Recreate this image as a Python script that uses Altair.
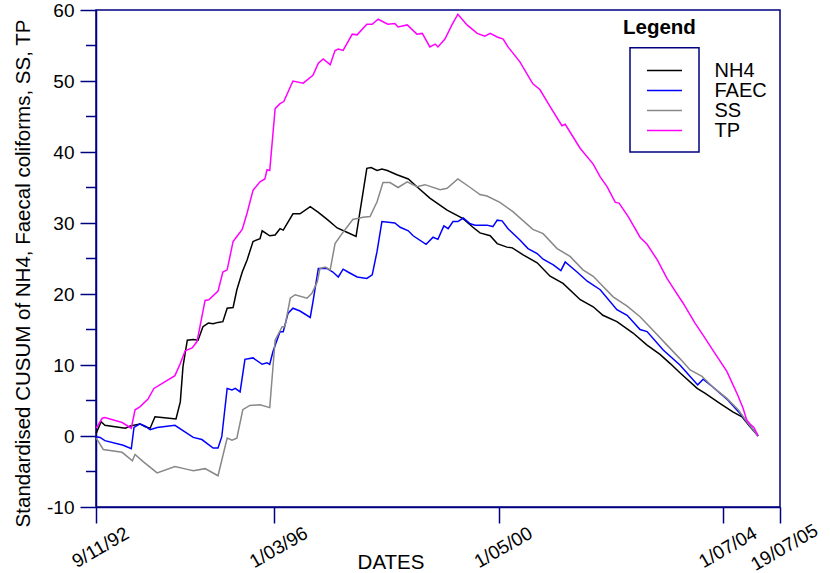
import altair as alt
import pandas as pd

NAVY = "#000080"
FONT = "Liberation Sans"

series_names = ["NH4", "FAEC", "SS", "TP"]
series_colors = ["#000000", "#0000ff", "#888888", "#ff00ff"]

x_tick_dates = [(1992, 11, 9), (1996, 3, 1), (2000, 5, 1), (2004, 7, 1), (2005, 7, 19)]
y_major = [-10, 0, 10, 20, 30, 40, 50, 60]
y_minor = [-5, 5, 15, 25, 35, 45, 55]

# decimal years / standardised CUSUM values
nh4_years = [1992.86, 1992.95, 1993.02, 1993.40, 1993.49, 1993.67, 1993.77, 1993.86, 1993.95, 1994.08,
             1994.34, 1994.42, 1994.47, 1994.55, 1994.66, 1994.75, 1994.84, 1994.94, 1995.03, 1995.12,
             1995.21, 1995.29, 1995.40, 1995.47, 1995.57, 1995.66, 1995.77, 1995.90, 1995.94, 1996.08,
             1996.18, 1996.27, 1996.33, 1996.51, 1996.64, 1996.83, 1996.98, 1997.16, 1997.33, 1997.51,
             1997.68, 1997.88, 1997.96, 1998.07, 1998.16, 1998.26, 1998.44, 1998.65, 1998.81, 1999.05,
             1999.37, 1999.65, 1999.85, 1999.98, 2000.17, 2000.30, 2000.48, 2000.58, 2000.78, 2001.04,
             2001.28, 2001.52, 2001.84, 2002.08, 2002.26, 2002.52, 2002.82, 2003.08, 2003.32, 2003.51,
             2003.69, 2004.01, 2004.16, 2004.43, 2004.67, 2004.84, 2004.99, 2005.14]
nh4_values = [0.4, 2.0, 1.5, 1.1, 1.4, 1.7, 1.3, 1.1, 2.7, 2.6,
              2.4, 4.8, 9.8, 13.5, 13.6, 13.5, 15.4, 15.9, 15.8, 16.0,
              16.1, 18.0, 18.1, 20.6, 23.1, 24.8, 27.4, 27.8, 28.9, 28.2,
              28.3, 29.2, 29.0, 31.3, 31.3, 32.3, 31.5, 30.4, 29.3, 28.7,
              28.1, 37.7, 37.8, 37.4, 37.6, 37.4, 36.8, 36.2, 35.1, 33.5,
              31.8, 30.7, 29.4, 28.6, 28.2, 27.1, 26.6, 26.5, 25.5, 24.4,
              22.5, 21.5, 19.2, 18.2, 17.0, 16.1, 14.5, 12.8, 11.5, 10.2,
              8.9, 6.7, 6.0, 4.6, 3.4, 2.7, 1.3, 0.0]

faec_years = [1992.86, 1992.93, 1993.02, 1993.36, 1993.51, 1993.56, 1993.67, 1993.77, 1993.86, 1993.99,
              1994.32, 1994.66, 1994.82, 1995.03, 1995.12, 1995.19, 1995.29, 1995.38, 1995.44, 1995.53,
              1995.62, 1995.77, 1995.94, 1996.03, 1996.08, 1996.14, 1996.27, 1996.33, 1996.42, 1996.51,
              1996.64, 1996.83, 1996.88, 1996.98, 1997.14, 1997.25, 1997.35, 1997.44, 1997.53, 1997.70,
              1997.88, 1997.98, 1998.07, 1998.16, 1998.40, 1998.50, 1998.65, 1998.74, 1998.98, 1999.11,
              1999.20, 1999.31, 1999.39, 1999.48, 1999.57, 1999.67, 1999.80, 1999.89, 2000.11, 2000.22,
              2000.30, 2000.39, 2000.50, 2000.72, 2000.87, 2001.04, 2001.15, 2001.34, 2001.48, 2001.56,
              2001.78, 2001.97, 2002.21, 2002.52, 2002.71, 2002.95, 2003.08, 2003.38, 2003.69, 2004.02,
              2004.12, 2004.30, 2004.56, 2004.80, 2004.95, 2005.14]
faec_values = [-0.1, -0.2, -0.65, -1.3, -1.8, 1.2, 1.7, 1.4, 0.9, 1.2,
               1.5, -0.2, -0.5, -1.7, -1.7, -0.1, 6.7, 6.5, 6.7, 6.2,
               10.8, 11.0, 10.1, 10.3, 10.1, 11.9, 14.7, 14.7, 17.3, 18.0,
               17.6, 16.7, 18.9, 23.6, 23.6, 23.1, 22.4, 23.5, 23.1, 22.4,
               22.2, 22.7, 26.0, 30.2, 30.0, 29.4, 28.9, 28.2, 27.0, 28.0,
               27.7, 29.6, 29.2, 30.2, 30.2, 30.7, 29.9, 29.7, 29.7, 29.5,
               30.4, 30.3, 29.2, 27.6, 26.4, 25.7, 24.9, 24.1, 23.3, 24.5,
               23.1, 21.8, 20.6, 17.8, 17.0, 15.0, 14.7, 12.1, 10.0, 7.2,
               8.0, 6.9, 5.2, 3.2, 1.8, 0.0]

ss_years = [1992.86, 1992.99, 1993.34, 1993.53, 1993.58, 1993.73, 1993.99, 1994.32, 1994.55, 1994.66,
            1994.88, 1995.12, 1995.29, 1995.38, 1995.47, 1995.58, 1995.71, 1995.90, 1996.08, 1996.18,
            1996.31, 1996.36, 1996.46, 1996.55, 1996.77, 1996.86, 1996.96, 1997.01, 1997.11, 1997.20,
            1997.29, 1997.42, 1997.62, 1997.81, 1997.94, 1998.07, 1998.18, 1998.31, 1998.46, 1998.63,
            1998.81, 1998.96, 1999.24, 1999.37, 1999.57, 1999.80, 1999.98, 2000.11, 2000.35, 2000.59,
            2000.96, 2001.15, 2001.41, 2001.65, 2001.89, 2002.08, 2002.45, 2002.71, 2002.95, 2003.19,
            2003.45, 2003.69, 2003.88, 2004.10, 2004.30, 2004.56, 2004.77, 2004.93, 2005.14]
ss_values = [-0.3, -1.9, -2.3, -3.5, -2.6, -3.6, -5.2, -4.3, -4.7, -4.9,
             -4.6, -5.6, -0.3, -0.6, -0.3, 3.7, 4.3, 4.4, 4.0, 13.5,
             15.4, 15.4, 19.4, 19.9, 19.4, 20.1, 21.7, 23.6, 23.8, 23.4,
             27.1, 28.5, 30.5, 30.8, 30.9, 33.0, 35.7, 35.7, 35.0, 35.8,
             35.1, 35.4, 34.7, 34.9, 36.2, 35.0, 34.0, 33.8, 32.9, 31.6,
             29.1, 28.5, 26.4, 25.3, 23.4, 22.5, 19.6, 18.3, 16.8, 14.9,
             12.8, 10.9, 9.3, 8.4, 6.9, 5.3, 3.7, 2.0, 0.0]

tp_years = [1992.86, 1992.97, 1993.02, 1993.34, 1993.51, 1993.58, 1993.67, 1993.82, 1993.93, 1994.32,
            1994.42, 1994.51, 1994.64, 1994.73, 1994.88, 1994.95, 1995.12, 1995.21, 1995.29, 1995.40,
            1995.47, 1995.57, 1995.66, 1995.77, 1995.90, 1995.99, 1996.03, 1996.08, 1996.18, 1996.27,
            1996.34, 1996.51, 1996.70, 1996.88, 1996.98, 1997.07, 1997.20, 1997.29, 1997.35, 1997.44,
            1997.61, 1997.70, 1997.88, 1997.98, 1998.09, 1998.27, 1998.40, 1998.46, 1998.63, 1998.81,
            1998.91, 1999.05, 1999.15, 1999.20, 1999.33, 1999.46, 1999.57, 1999.74, 1999.93, 2000.07,
            2000.17, 2000.30, 2000.41, 2000.50, 2000.72, 2000.96, 2001.09, 2001.28, 2001.50, 2001.56,
            2001.84, 2002.08, 2002.21, 2002.34, 2002.49, 2002.56, 2002.73, 2002.95, 2003.08, 2003.27,
            2003.45, 2003.56, 2003.75, 2003.97, 2004.12, 2004.30, 2004.56, 2004.77, 2004.86, 2004.93,
            2004.99, 2005.06, 2005.14]
tp_values = [1.1, 2.5, 2.6, 1.9, 1.1, 3.7, 4.1, 5.2, 6.7, 8.5,
             10.2, 12.0, 12.4, 13.3, 19.1, 19.2, 20.4, 23.1, 23.4, 27.4,
             28.1, 29.1, 31.4, 34.6, 35.8, 36.2, 37.5, 37.4, 46.1, 46.8,
             47.1, 50.0, 49.7, 50.8, 52.5, 53.1, 52.3, 54.3, 54.5, 54.3,
             56.6, 56.5, 58.0, 58.0, 58.7, 58.0, 58.1, 57.6, 57.9, 56.6,
             56.7, 54.8, 55.2, 54.8, 55.9, 57.9, 59.4, 57.9, 56.7, 56.3,
             56.7, 56.2, 55.9, 54.8, 52.7, 49.6, 48.8, 46.4, 43.7, 43.9,
             40.5, 38.3, 36.5, 35.1, 32.9, 32.8, 30.9, 28.0, 27.0, 24.8,
             22.2, 20.9, 18.7, 15.9, 14.2, 12.1, 9.1, 5.6, 3.9, 2.2,
             1.7, 1.2, 0.0]


def to_date(y):
    yr = int(y)
    start = pd.Timestamp(year=yr, month=1, day=1)
    end = pd.Timestamp(year=yr + 1, month=1, day=1)
    return (start + (end - start) * (y - yr)).round("h")


rows = []
for name, ys, vs in [("NH4", nh4_years, nh4_values), ("FAEC", faec_years, faec_values),
                     ("SS", ss_years, ss_values), ("TP", tp_years, tp_values)]:
    for y, v in zip(ys, vs):
        rows.append({"series": name, "date": to_date(y), "value": v})
df = pd.DataFrame(rows)

tick_vals = [alt.DateTime(year=a, month=b, date=c) for a, b, c in x_tick_dates]

x_enc = alt.X(
    "date:T",
    scale=alt.Scale(domain=[tick_vals[0], tick_vals[-1]], nice=False),
    axis=alt.Axis(
        values=tick_vals, format="%-d/%m/%y", labelAngle=330, labelAlign="center",
        labelBaseline="middle", labelPadding=24, labelOffset=4, labelFlush=False,
        labelOverlap=False, labelFontSize=19, labelColor="black", labelFont=FONT,
        tickSize=16, tickColor=NAVY, tickWidth=1.5, domainColor=NAVY, domainWidth=1.5,
        grid=False, title="DATES", titleFontSize=20.5, titleFontWeight="normal",
        titleFont=FONT, titleColor="black", titleX=294.5, titleY=61,
        titleAlign="center", titleBaseline="alphabetic",
    ),
)
y_axis = alt.Axis(
    values=y_major, tickSize=16, tickColor=NAVY, tickWidth=1.5, domainColor=NAVY,
    domainWidth=1.5, labelFontSize=19, labelPadding=6, labelColor="black",
    labelFont=FONT, labelFlush=False, grid=False, labelExpr="'' + datum.value",
    title="Standardised CUSUM of NH4, Faecal coliforms, SS, TP",
    titleFontSize=20.5, titleFontWeight="normal", titleFont=FONT, titleColor="black",
    titleAngle=270, titleX=-73, titleY=263, titleAlign="center", titleBaseline="middle",
)
y_scale = alt.Scale(domain=[-10, 60], nice=False, zero=False)
y_enc = alt.Y("value:Q", scale=y_scale, axis=y_axis)

lines = alt.Chart(df).mark_line(strokeWidth=1.5).encode(
    x=x_enc,
    y=y_enc,
    color=alt.Color(
        "series:N",
        scale=alt.Scale(domain=series_names, range=series_colors),
        legend=alt.Legend(
            orient="none", legendX=527, legendY=7.5, padding=0,
            title="Legend", titleFontSize=20.5, titleFontWeight="bold", titleFont=FONT,
            titleColor="black", titleAnchor="start", titleAlign="left", titleBaseline="top",
            titlePadding=22.5, symbolType="M-2,0H2", symbolSize=306, symbolStrokeWidth=1.5,
            symbolOffset=31.5, labelOffset=40, labelFontSize=20, labelFont=FONT,
            labelColor="black", rowPadding=0, direction="vertical", labelLimit=200,
        ),
    ),
)

minor = alt.Chart(pd.DataFrame({"value": y_minor})).mark_rule(
    color=NAVY, strokeWidth=1.5
).encode(y=y_enc, x=alt.value(-10), x2=alt.value(0))

box = alt.Chart(pd.DataFrame({"box": [0]})).mark_rect(
    fillOpacity=0, stroke=NAVY, strokeWidth=1.5
).encode(x=alt.value(534), x2=alt.value(603), y=alt.value(37.7), y2=alt.value(142))

chart = (
    alt.layer(lines, minor, box)
    .properties(
        width=684, height=497,
        autosize=alt.AutoSizeParams(type="none"),
        padding={"left": 96, "top": 10, "right": 50, "bottom": 66},
    )
    .configure(font=FONT)
    .configure_view(stroke=NAVY, strokeWidth=1.5)
)

chart.save("out.html", embed_options={"renderer": "svg", "actions": False})
